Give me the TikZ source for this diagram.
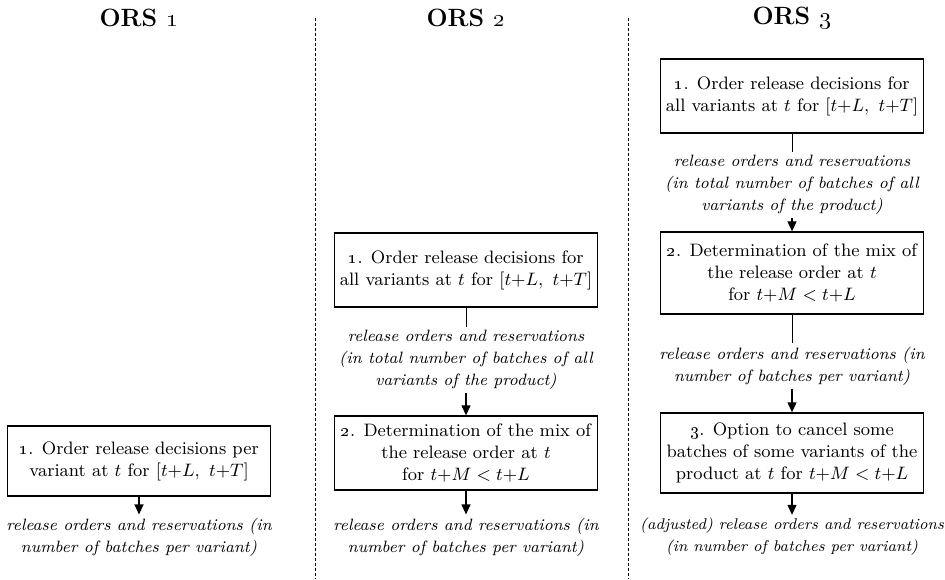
\documentclass[tikz,border=0pt]{standalone}
\usepackage{amsmath}
\usepackage{tikz}
\usetikzlibrary{arrows.meta,positioning}

\newcommand{\osn}[1]{\oldstylenums{#1}}

\begin{document}
\begin{tikzpicture}[x=0.5pt,y=-0.5pt,
   decision/.style={draw,line width=0.7pt,minimum width=131.5pt,align=center,
      font=\fontsize{9}{11}\selectfont,inner sep=0pt},
   flowlabel/.style={align=center,font=\fontsize{8.2}{11}\selectfont\itshape,inner sep=1.5pt},
   orshead/.style={font=\fontsize{12.5}{14}\selectfont\bfseries\boldmath},
   flowarrow/.style={line width=0.6pt,-{Triangle[width=4.5pt,length=5pt]}},
   separator/.style={dash pattern=on 1.5pt off 1pt,line width=0.45pt}]
   \useasboundingbox (0,0) rectangle (945,579);

   \node[orshead] (h1) at (139,18) {ORS \osn{1}};
   \node[orshead] (h2) at (466,18) {ORS \osn{2}};
   \node[orshead] (h3) at (792,18) {ORS \osn{3}};

   \draw[separator] (315,18) -- (315,579);
   \draw[separator] (628,18) -- (628,579);

   \node[decision,minimum height=35pt] (b11) at (139,461)
      {\osn{1}. Order release decisions per\\ variant at $t$ for $[t{+}L,\ t{+}T]$};
   \node[flowlabel] (l11) at (139,537)
      {release orders and reservations (in\\ number of batches per variant)};
   \draw[flowarrow] (b11) -- (l11);

   \node[decision,minimum height=37pt] (b21) at (466,270)
      {\osn{1}. Order release decisions for\\ all variants at $t$ for $[t{+}L,\ t{+}T]$};
   \node[flowlabel] (l21) at (466,360)
      {release orders and reservations\\ (in total number of batches of all\\ variants of the product)};
   \node[decision,minimum height=37pt] (b22) at (466,453)
      {\osn{2}. Determination of the mix of\\ the release order at $t$\\ for $t{+}M < t{+}L$};
   \node[flowlabel] (l22) at (466,537)
      {release orders and reservations (in\\ number of batches per variant)};
   \draw (b21) -- (l21);
   \draw[flowarrow] (l21) -- (b22);
   \draw[flowarrow] (b22) -- (l22);

   \node[decision,minimum height=37pt] (b31) at (792,96)
      {\osn{1}. Order release decisions for\\ all variants at $t$ for $[t{+}L,\ t{+}T]$};
   \node[flowlabel] (l31) at (792,185)
      {release orders and reservations\\ (in total number of batches of all\\ variants of the product)};
   \node[decision,minimum height=41pt] (b32) at (792,273)
      {\osn{2}. Determination of the mix of\\ the release order at $t$\\ for $t{+}M < t{+}L$};
   \node[flowlabel] (l32) at (792,366)
      {release orders and reservations (in\\ number of batches per variant)};
   \node[decision,minimum height=40pt] (b33) at (792,453)
      {\osn{3}. Option to cancel some\\ batches of some variants of the\\ product at $t$ for $t{+}M < t{+}L$};
   \node[flowlabel,font=\fontsize{7.8}{11}\selectfont\itshape] (l33) at (792,537)
      {(adjusted) release orders and reservations\\ (in number of batches per variant)};
   \draw (b31) -- (l31);
   \draw[flowarrow] (l31) -- (b32);
   \draw (b32) -- (l32);
   \draw[flowarrow] (l32) -- (b33);
   \draw[flowarrow] (b33) -- (l33);
\end{tikzpicture}
\end{document}
